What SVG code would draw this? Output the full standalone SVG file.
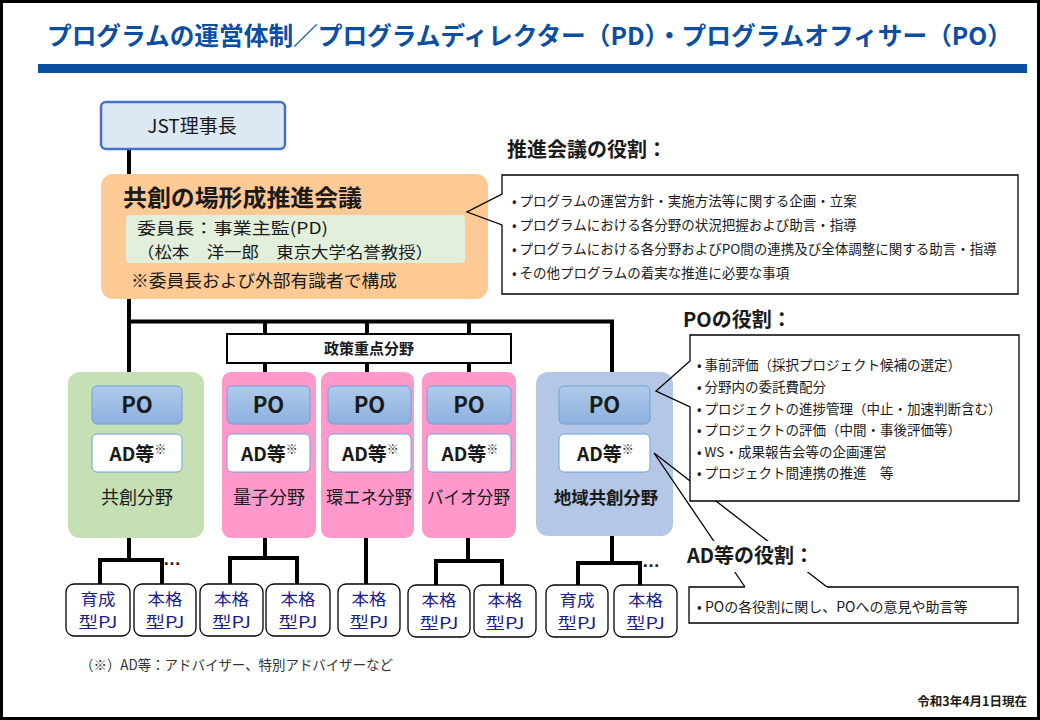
<svg xmlns="http://www.w3.org/2000/svg" width="1040" height="720" viewBox="0 0 1040 720">
<style>
text{font-family:'Noto Sans CJK JP','Noto Sans CJK SC',sans-serif;fill:#1a1a1a}
.b{font-weight:bold}
.ttl{fill:#0b4ea2;font-weight:bold;font-size:24.5px}
.ln{stroke:#000;stroke-width:4;fill:none}
.thin{stroke:#000;stroke-width:1.3;fill:none}
.po{fill:url(#pog);stroke:#6fa0d8;stroke-width:1}
.ad{fill:#fff;stroke:#6fa0d8;stroke-width:1}
.pj{fill:#fff;stroke:#000;stroke-width:1.3}
.pjt{fill:#1c1c8c;font-size:15.5px}
.bul{font-size:13.5px}
.bul2{font-size:13.5px}
.h2{font-weight:bold;font-size:20px}
.pot{font-weight:bold;font-size:22px}
.adt{font-weight:bold;font-size:19px}
.fl{font-size:18px}
</style>
<defs>
<linearGradient id="pog" x1="0" y1="0" x2="0" y2="1">
<stop offset="0" stop-color="#b0cbeb"/>
<stop offset="1" stop-color="#8cb0de"/>
</linearGradient>
</defs>
<rect x="0" y="0" width="1040" height="720" fill="#000"/>
<rect x="3" y="3" width="1034" height="714" fill="#fff"/>
<text class="ttl" x="47" y="45" textLength="965" lengthAdjust="spacingAndGlyphs">プログラムの運営体制／プログラムディレクター（PD）・プログラムオフィサー（PO）</text>
<rect x="38" y="64" width="989" height="9" fill="#0b4ea2"/>

<g id="connectors">
<path class="ln" d="M129,150 V175"/>
<path class="ln" d="M129,299 V372"/>
<path class="ln" d="M127,321.5 H614"/>
<path class="ln" d="M265,321 V334 M265,363 V372"/>
<path class="ln" d="M367,321 V334 M367,363 V372"/>
<path class="ln" d="M469,321 V334 M469,363 V372"/>
<path class="ln" d="M612,321 V372"/>
<path class="ln" d="M129,538 V560 M100,585 V560 H162 V585"/>
<path class="ln" d="M265,538 V558 M230,584 V558 H297 V584"/>
<path class="ln" d="M366,538 V584"/>
<path class="ln" d="M468,538 V561 M436,585 V561 H502 V585"/>
<path class="ln" d="M612,536 V563 M578,585 V563 H640 V585"/>
<text x="163" y="565" class="b" style="font-family:'Liberation Sans',sans-serif;font-size:18px">…</text>
<text x="642" y="567" class="b" style="font-family:'Liberation Sans',sans-serif;font-size:18px">…</text>
</g>

<g id="jst">
<rect x="101" y="102" width="184" height="47" rx="5" fill="#dde8f5" stroke="#4472c4" stroke-width="2.5"/>
<text x="192" y="133" text-anchor="middle" style="font-size:19px">JST理事長</text>
</g>

<g id="council">
<rect x="101" y="174" width="387" height="125" rx="12" fill="#fdc994"/>
<rect x="126" y="215" width="339" height="48" rx="4" fill="#e2efda"/>
<text x="123" y="206" class="b" style="font-size:23px" textLength="239" lengthAdjust="spacingAndGlyphs">共創の場形成推進会議</text>
<text x="137" y="234" style="font-size:16px" textLength="191" lengthAdjust="spacingAndGlyphs">委員長：事業主監(PD)</text>
<text x="137" y="257.5" style="font-size:16px" textLength="296" lengthAdjust="spacingAndGlyphs">（松本　洋一郎　東京大学名誉教授）</text>
<text x="131" y="287" style="font-size:17.5px" textLength="266" lengthAdjust="spacingAndGlyphs">※委員長および外部有識者で構成</text>
</g>

<g id="council-role">
<text x="507" y="157" class="h2">推進会議の役割：</text>
<rect x="502" y="175" width="516" height="119" fill="#fff"/>
<path class="thin" d="M502,194 V175 H1018 V294 H502 V225 L467,212 Z"/>
<text x="512" y="206" class="bul">•  プログラムの運営方針・実施方法等に関する企画・立案</text>
<text x="512" y="230" class="bul">•  プログラムにおける各分野の状況把握および助言・指導</text>
<text x="512" y="254" class="bul">•  プログラムにおける各分野およびPO間の連携及び全体調整に関する助言・指導</text>
<text x="512" y="278" class="bul">•  その他プログラムの着実な推進に必要な事項</text>
</g>

<g id="policy">
<rect x="227" y="334" width="284" height="29" fill="#fff" stroke="#000" stroke-width="2"/>
<text x="369" y="354" text-anchor="middle" class="b" style="font-size:15px">政策重点分野</text>
</g>

<g id="kyoso">
<rect x="68" y="372" width="136" height="166" rx="12" fill="#c5e0b4"/>
<rect class="po" x="92" y="386" width="90" height="38" rx="5"/>
<text class="pot" x="137" y="413" text-anchor="middle">PO</text>
<rect class="ad" x="92" y="434" width="90" height="38" rx="5"/>
<text class="adt" x="138" y="461" text-anchor="middle">AD等<tspan style="font-size:12px;font-weight:normal" dy="-7">※</tspan></text>
<text class="fl" x="137" y="504" text-anchor="middle">共創分野</text>
</g>

<g id="ryoshi">
<rect x="222" y="372" width="94" height="166" rx="9" fill="#ff99cc"/>
<rect class="po" x="227" y="386" width="83" height="38" rx="5"/>
<text class="pot" x="268.5" y="413" text-anchor="middle">PO</text>
<rect class="ad" x="227" y="434" width="83" height="38" rx="5"/>
<text class="adt" x="269.5" y="461" text-anchor="middle">AD等<tspan style="font-size:12px;font-weight:normal" dy="-7">※</tspan></text>
<text class="fl" x="269" y="504" text-anchor="middle">量子分野</text>
</g>

<g id="kanene">
<rect x="321" y="372" width="93" height="166" rx="9" fill="#ff99cc"/>
<rect class="po" x="328" y="386" width="83" height="38" rx="5"/>
<text class="pot" x="369.5" y="413" text-anchor="middle">PO</text>
<rect class="ad" x="328" y="434" width="83" height="38" rx="5"/>
<text class="adt" x="370.5" y="461" text-anchor="middle">AD等<tspan style="font-size:12px;font-weight:normal" dy="-7">※</tspan></text>
<text class="fl" x="326" y="504" textLength="86" lengthAdjust="spacingAndGlyphs">環エネ分野</text>
</g>

<g id="bio">
<rect x="422" y="372" width="94" height="166" rx="9" fill="#ff99cc"/>
<rect class="po" x="427" y="386" width="84" height="38" rx="5"/>
<text class="pot" x="469" y="413" text-anchor="middle">PO</text>
<rect class="ad" x="427" y="434" width="84" height="38" rx="5"/>
<text class="adt" x="470" y="461" text-anchor="middle">AD等<tspan style="font-size:12px;font-weight:normal" dy="-7">※</tspan></text>
<text class="fl" x="427" y="504" textLength="83" lengthAdjust="spacingAndGlyphs">バイオ分野</text>
</g>

<g id="chiiki">
<rect x="536" y="372" width="137" height="164" rx="12" fill="#b4c7e7"/>
<rect class="po" x="559" y="386" width="91" height="38" rx="5"/>
<text class="pot" x="604.5" y="413" text-anchor="middle">PO</text>
<rect class="ad" x="559" y="434" width="91" height="38" rx="5"/>
<text class="adt" x="605.5" y="461" text-anchor="middle">AD等<tspan style="font-size:12px;font-weight:normal" dy="-7">※</tspan></text>
<text x="554" y="504" class="b" style="font-size:17px" textLength="104" lengthAdjust="spacingAndGlyphs">地域共創分野</text>
</g>

<g id="ad-role">
<path class="thin" d="M745,587 L654,453 M827,587 L654,453"/>
<rect x="689" y="587" width="329" height="36" fill="#fff"/>
<path class="thin" d="M745,587 H689 V623 H1018 V587 H827"/>
<text x="697" y="612" style="font-size:14px">•  POの各役割に関し、POへの意見や助言等</text>
</g>

<g id="po-role">
<text x="683" y="327" class="h2">POの役割：</text>
<rect x="690" y="335" width="329" height="166" fill="#fff"/>
<path class="thin" d="M690,361 V335 H1019 V501 H690 V407 L656,391 Z"/>
<text x="697" y="370" class="bul2">•  事前評価（採択プロジェクト候補の選定）</text>
<text x="697" y="392" class="bul2">•  分野内の委託費配分</text>
<text x="697" y="414" class="bul2">•  プロジェクトの進捗管理（中止・加速判断含む）</text>
<text x="697" y="435" class="bul2">•  プロジェクトの評価（中間・事後評価等）</text>
<text x="697" y="457" class="bul2">•  WS・成果報告会等の企画運営</text>
<text x="697" y="478" class="bul2">•  プロジェクト間連携の推進　等</text>
</g>

<g id="ad-role-title">
<rect x="682" y="541" width="142" height="31" fill="#fff"/>
<text x="687" y="563" class="h2">AD等の役割：</text>
</g>

<g id="pj1"><rect class="pj" x="66" y="584" width="64" height="52" rx="8"/><text class="pjt" x="80.5" y="605" textLength="35" lengthAdjust="spacingAndGlyphs">育成</text><text class="pjt" x="78.5" y="628" textLength="39" lengthAdjust="spacingAndGlyphs">型PJ</text></g>
<g id="pj2"><rect class="pj" x="134" y="584" width="62" height="52" rx="8"/><text class="pjt" x="147.5" y="605" textLength="35" lengthAdjust="spacingAndGlyphs">本格</text><text class="pjt" x="145.5" y="628" textLength="39" lengthAdjust="spacingAndGlyphs">型PJ</text></g>
<g id="pj3"><rect class="pj" x="200" y="584" width="63" height="52" rx="8"/><text class="pjt" x="214" y="605" textLength="35" lengthAdjust="spacingAndGlyphs">本格</text><text class="pjt" x="212" y="628" textLength="39" lengthAdjust="spacingAndGlyphs">型PJ</text></g>
<g id="pj4"><rect class="pj" x="266" y="584" width="64" height="52" rx="8"/><text class="pjt" x="280.5" y="605" textLength="35" lengthAdjust="spacingAndGlyphs">本格</text><text class="pjt" x="278.5" y="628" textLength="39" lengthAdjust="spacingAndGlyphs">型PJ</text></g>
<g id="pj5"><rect class="pj" x="338" y="584" width="62" height="52" rx="8"/><text class="pjt" x="351.5" y="605" textLength="35" lengthAdjust="spacingAndGlyphs">本格</text><text class="pjt" x="349.5" y="628" textLength="39" lengthAdjust="spacingAndGlyphs">型PJ</text></g>
<g id="pj6"><rect class="pj" x="408" y="585" width="62" height="52" rx="8"/><text class="pjt" x="421.5" y="606" textLength="35" lengthAdjust="spacingAndGlyphs">本格</text><text class="pjt" x="419.5" y="629" textLength="39" lengthAdjust="spacingAndGlyphs">型PJ</text></g>
<g id="pj7"><rect class="pj" x="474" y="585" width="62" height="52" rx="8"/><text class="pjt" x="487.5" y="606" textLength="35" lengthAdjust="spacingAndGlyphs">本格</text><text class="pjt" x="485.5" y="629" textLength="39" lengthAdjust="spacingAndGlyphs">型PJ</text></g>
<g id="pj8"><rect class="pj" x="546" y="585" width="62" height="52" rx="8"/><text class="pjt" x="559.5" y="606" textLength="35" lengthAdjust="spacingAndGlyphs">育成</text><text class="pjt" x="557.5" y="629" textLength="39" lengthAdjust="spacingAndGlyphs">型PJ</text></g>
<g id="pj9"><rect class="pj" x="614" y="585" width="63" height="52" rx="8"/><text class="pjt" x="628" y="606" textLength="35" lengthAdjust="spacingAndGlyphs">本格</text><text class="pjt" x="626" y="629" textLength="39" lengthAdjust="spacingAndGlyphs">型PJ</text></g>

<text x="80" y="670" style="font-size:14px;fill:#333" textLength="313" lengthAdjust="spacingAndGlyphs">（※）AD等：アドバイザー、特別アドバイザーなど</text>
<text x="1027" y="706" text-anchor="end" class="b" style="font-size:12.5px">令和3年4月1日現在</text>
</svg>
